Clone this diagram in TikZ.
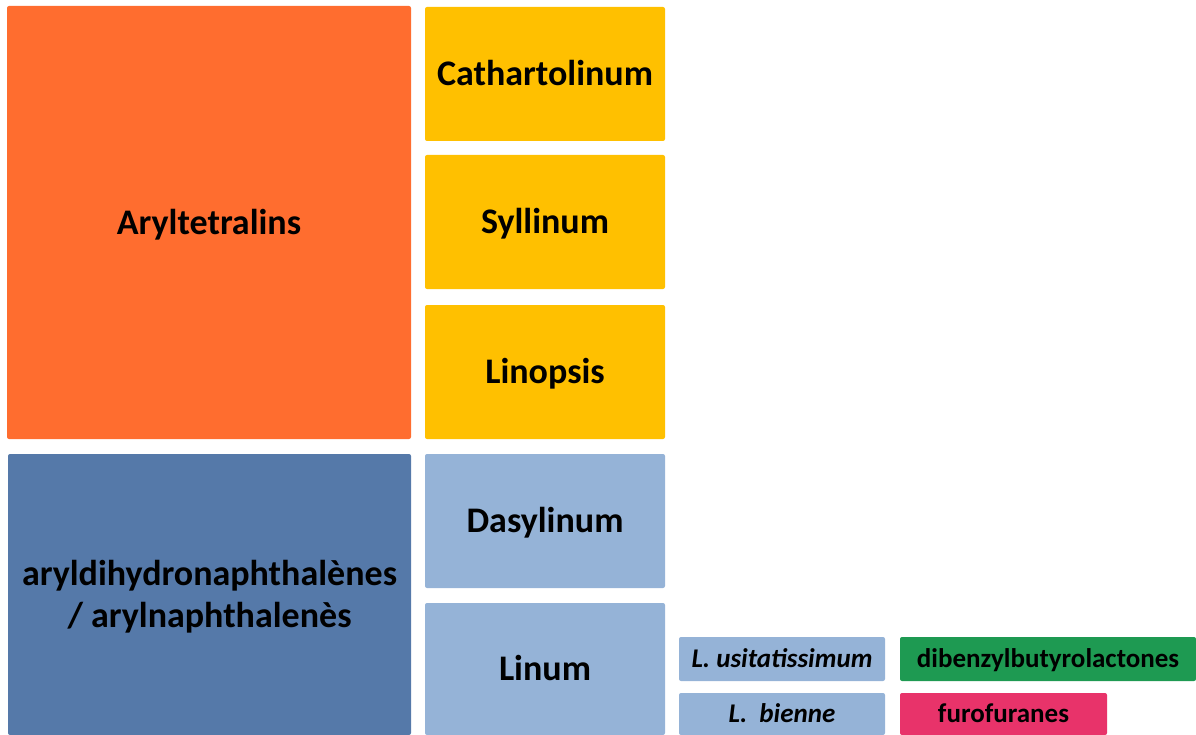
\documentclass[tikz,border=0pt]{standalone}
\usepackage{fontspec}
\setmainfont{Carlito}
\usepackage{tikz}

\definecolor{orangeA}{HTML}{FF6D2F}
\definecolor{yellowA}{HTML}{FFC000}
\definecolor{blueA}{HTML}{5579A9}
\definecolor{blueB}{HTML}{95B3D7}
\definecolor{greenA}{HTML}{1E9A52}
\definecolor{pinkA}{HTML}{E8336A}

\begin{document}
\begin{tikzpicture}[x=1pt, y=1pt,
    tile/.style={rounded corners=2pt, inner sep=0pt, align=center, text depth=2pt, font=\bfseries\fontsize{36}{42}\selectfont},
    small/.style={tile, font=\bfseries\fontsize{27}{32}\selectfont},
    species/.style={small, fill=blueB, font=\bfseries\itshape\fontsize{27}{32}\selectfont}]
                \useasboundingbox (0,0) rectangle (1196,-735);
                
                % grandes blocs
                \node[tile, fill=orangeA, minimum width=404, minimum height=433] (aryl) at (209,-222.5) {Aryltetralins};
                \node[tile, fill=blueA, minimum width=403, minimum height=281] (dihydro) at (209.5,-594.5) {aryldihydronaphthalènes\\/ arylnaphthalenès};
                
                % sections
                \node[tile, fill=yellowA, minimum width=240, minimum height=134] (catha) at (545,-74) {Cathartolinum};
                \node[tile, fill=yellowA, minimum width=240, minimum height=134] (syll) at (545,-222) {Syllinum};
                \node[tile, fill=yellowA, minimum width=240, minimum height=134] (linop) at (545,-372) {Linopsis};
                \node[tile, fill=blueB, minimum width=240, minimum height=134] (dasy) at (545,-521) {Dasylinum};
                \node[tile, fill=blueB, minimum width=240, minimum height=132] (linum) at (545,-669) {Linum};
                
                % especes
                \node[species, minimum width=206, minimum height=44] (usit) at (782,-659) {L. usitatissimum};
                \node[species, minimum width=206, minimum height=42] (bien) at (782,-714) {L.\ \ bienne};
                
                % autres lignanes
                \node[small, fill=greenA, minimum width=296, minimum height=44] (dibenz) at (1048,-659) {dibenzylbutyrolactones};
                \node[small, fill=pinkA, minimum width=207, minimum height=42] (furo) at (1003.5,-714) {furofuranes};
\end{tikzpicture}
\end{document}
